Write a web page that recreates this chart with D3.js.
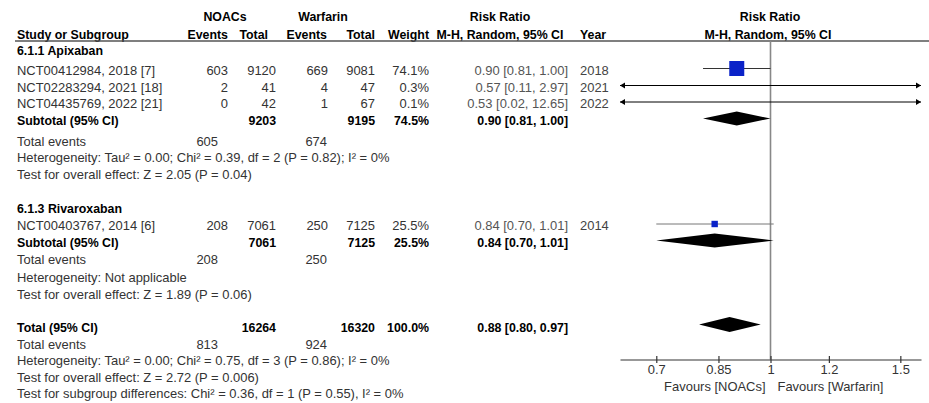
<!DOCTYPE html>
<html>
<head>
<meta charset="utf-8">
<script src="https://cdn.jsdelivr.net/npm/d3@7"></script>
<style>
  html, body { margin: 0; padding: 0; background: #fff; }
  svg { display: block; }
</style>
</head>
<body>
<svg id="plot" width="929" height="403"></svg>
<script>
// ---- Study-level data ----
const studies     = ["NCT00412984, 2018 [7]", "NCT02283294, 2021 [18]", "NCT04435769, 2022 [21]", "NCT00403767, 2014 [6]"];
const studyGroup  = [0, 0, 0, 1];
const noacEvents  = [603, 2, 0, 208];
const noacTotal   = [9120, 41, 42, 7061];
const warfEvents  = [669, 4, 1, 250];
const warfTotal   = [9081, 47, 67, 7125];
const weights     = [74.1, 0.3, 0.1, 25.5];
const rr          = [0.90, 0.57, 0.53, 0.84];
const rrLow       = [0.81, 0.11, 0.02, 0.70];
const rrHigh      = [1.00, 2.97, 12.65, 1.01];
const years       = [2018, 2021, 2022, 2014];

// ---- Subgroup summaries ----
const groupNames      = ["6.1.1 Apixaban", "6.1.3 Rivaroxaban"];
const groupNoacTotal  = [9203, 7061];
const groupWarfTotal  = [9195, 7125];
const groupWeight     = [74.5, 25.5];
const groupRR         = [0.90, 0.84];
const groupLow        = [0.81, 0.70];
const groupHigh       = [1.00, 1.01];
const groupNoacEvents = [605, 208];
const groupWarfEvents = [674, 250];
const groupHetero     = ["Heterogeneity: Tau\u00B2 = 0.00; Chi\u00B2 = 0.39, df = 2 (P = 0.82); I\u00B2 = 0%",
                         "Heterogeneity: Not applicable"];
const groupEffect     = ["Test for overall effect: Z = 2.05 (P = 0.04)",
                         "Test for overall effect: Z = 1.89 (P = 0.06)"];

// ---- Overall summary ----
const totalNoac       = 16264;
const totalWarf       = 16320;
const totalWeight     = 100.0;
const totalRR         = 0.88;
const totalLow        = 0.80;
const totalHigh       = 0.97;
const totalNoacEvents = 813;
const totalWarfEvents = 924;
const totalNotes      = ["Heterogeneity: Tau\u00B2 = 0.00; Chi\u00B2 = 0.75, df = 3 (P = 0.86); I\u00B2 = 0%",
                         "Test for overall effect: Z = 2.72 (P = 0.006)",
                         "Test for subgroup differences: Chi\u00B2 = 0.36, df = 1 (P = 0.55), I\u00B2 = 0%"];

// ---- Axis ----
const axisDomain  = [0.625, 1.6];
const tickValues  = [0.7, 0.85, 1, 1.2, 1.5];
const tickLabels  = ["0.7", "0.85", "1", "1.2", "1.5"];
const favourLeft  = "Favours [NOACs]";
const favourRight = "Favours [Warfarin]";

// ---- Layout ----
const FONT = "'Liberation Sans', Arial, Helvetica, sans-serif";
const SX_REG = 1.08, SX_BOLD = 1.03;
const col = {
  name: 17, nEv: 228, nTot: 276, wEv: 328, wTot: 375, weight: 429, ci: 568, year: 580,
  nEvSum: 218, wEvSum: 327
};
const plotX = [620, 921];
const axisY = 359.5;
const headerLineY = 41;

// text baselines for each row of the table
const yStudy    = [74.5, 91.5, 108, 230];
const yGroupHdr = [55, 213];
const ySubtotal = [124.5, 246.5];
const yGroupEv  = [145.5, 264];
const yGroupHet = [162, 281.5];
const yGroupEff = [178.5, 298.5];
const yTotal    = 331.5;
const yTotalEv  = 348.5;
const yTotalNotes = [365, 381.5, 398];
const markShift = 6;   // marks sit slightly above the text baseline

const svg = d3.select("#plot");
const fmt2 = d3.format(".2f");
const fmtPct = d3.format(".1f");

const x = d3.scaleLog().domain(axisDomain).range(plotX);

function label(g, xPos, yPos, str, opt = {}) {
  const bold = !!opt.bold;
  const sx = bold ? SX_BOLD : SX_REG;
  return g.append("text")
    .attr("transform", `translate(${xPos},${yPos}) scale(${sx},1)`)
    .attr("text-anchor", opt.anchor || "start")
    .attr("font-family", FONT)
    .attr("font-size", 12)
    .attr("font-weight", bold ? "bold" : "normal")
    .attr("fill", opt.fill || (bold ? "#000" : "#333"))
    .text(str);
}

const txt = svg.append("g");

// ---- Column headers ----
label(txt, 225, 20.5, "NOACs", { bold: true, anchor: "middle" });
label(txt, 323, 20.5, "Warfarin", { bold: true, anchor: "middle" });
label(txt, 500, 20.5, "Risk Ratio", { bold: true, anchor: "middle" });
label(txt, 770, 20.5, "Risk Ratio", { bold: true, anchor: "middle" });
label(txt, col.name, 38.5, "Study or Subgroup", { bold: true });
label(txt, 228, 38.5, "Events", { bold: true, anchor: "end" });
label(txt, 268, 38.5, "Total", { bold: true, anchor: "end" });
label(txt, 327, 38.5, "Events", { bold: true, anchor: "end" });
label(txt, 375, 38.5, "Total", { bold: true, anchor: "end" });
label(txt, 429, 38.5, "Weight", { bold: true, anchor: "end" });
label(txt, 500, 38.5, "M-H, Random, 95% CI", { bold: true, anchor: "middle" });
label(txt, 580, 38.5, "Year", { bold: true });
label(txt, 768, 38.5, "M-H, Random, 95% CI", { bold: true, anchor: "middle" });

svg.append("line")
  .attr("x1", 15).attr("x2", 929)
  .attr("y1", headerLineY).attr("y2", headerLineY)
  .attr("stroke", "#555").attr("stroke-width", 1.5);

// ---- Reference line at RR = 1 ----
svg.append("line")
  .attr("x1", x(1)).attr("x2", x(1))
  .attr("y1", headerLineY).attr("y2", axisY)
  .attr("stroke", "#888").attr("stroke-width", 1.6);

// ---- Subgroup headers, study rows, subtotals ----
groupNames.forEach((g, gi) => {
  label(txt, col.name, yGroupHdr[gi], g, { bold: true });
});

const sizeScale = d3.scalePow().exponent(0.8).domain([0, d3.max(weights)]).range([0, 15]);

const marks = svg.append("g");

function arrowHead(xTip, y, dir) {
  // dir = -1 for left-pointing, +1 for right-pointing
  marks.append("path")
    .attr("d", `M${xTip},${y} L${xTip - dir * 5},${y - 3} L${xTip - dir * 5},${y + 3} Z`)
    .attr("fill", "#000");
}

studies.forEach((s, i) => {
  const y = yStudy[i];
  label(txt, col.name, y, s);
  label(txt, col.nEv, y, noacEvents[i], { anchor: "end" });
  label(txt, col.nTot, y, noacTotal[i], { anchor: "end" });
  label(txt, col.wEv, y, warfEvents[i], { anchor: "end" });
  label(txt, col.wTot, y, warfTotal[i], { anchor: "end" });
  label(txt, col.weight, y, fmtPct(weights[i]) + "%", { anchor: "end" });
  label(txt, col.ci, y, `${fmt2(rr[i])} [${fmt2(rrLow[i])}, ${fmt2(rrHigh[i])}]`, { anchor: "end", fill: "#555" });
  label(txt, col.year, y, years[i], { fill: "#444" });

  // confidence interval, clipped to the axis range with arrows where it runs off
  const my = y - markShift;
  const lo = Math.max(rrLow[i], axisDomain[0]);
  const hi = Math.min(rrHigh[i], axisDomain[1]);
  const clipped = rrLow[i] < axisDomain[0] || rrHigh[i] > axisDomain[1];
  marks.append("line")
    .attr("x1", x(lo)).attr("x2", x(hi))
    .attr("y1", my).attr("y2", my)
    .attr("stroke", clipped ? "#000" : (studyGroup[i] === 0 ? "#333" : "#777"))
    .attr("stroke-width", 1);
  if (rrLow[i] < axisDomain[0]) arrowHead(x(lo), my, -1);
  if (rrHigh[i] > axisDomain[1]) arrowHead(x(hi), my, 1);

  // weight-sized square at the point estimate
  const sz = sizeScale(weights[i]);
  if (rr[i] >= axisDomain[0] && rr[i] <= axisDomain[1] && sz > 0.5) {
    marks.append("rect")
      .attr("x", x(rr[i]) - sz / 2).attr("y", my - sz / 2)
      .attr("width", sz).attr("height", sz)
      .attr("fill", "#0a22c8");
  }
});

function diamond(est, low, high, y, h) {
  marks.append("path")
    .attr("d", `M${x(low)},${y} L${x(est)},${y - h} L${x(high)},${y} L${x(est)},${y + h} Z`)
    .attr("fill", "#000");
}

groupNames.forEach((g, gi) => {
  const y = ySubtotal[gi];
  label(txt, col.name, y, "Subtotal (95% CI)", { bold: true });
  label(txt, col.nTot, y, groupNoacTotal[gi], { bold: true, anchor: "end" });
  label(txt, col.wTot, y, groupWarfTotal[gi], { bold: true, anchor: "end" });
  label(txt, col.weight, y, fmtPct(groupWeight[gi]) + "%", { bold: true, anchor: "end" });
  label(txt, col.ci, y, `${fmt2(groupRR[gi])} [${fmt2(groupLow[gi])}, ${fmt2(groupHigh[gi])}]`, { bold: true, anchor: "end" });
  diamond(groupRR[gi], groupLow[gi], groupHigh[gi], y - markShift, 7);

  label(txt, col.name, yGroupEv[gi], "Total events");
  label(txt, col.nEvSum, yGroupEv[gi], groupNoacEvents[gi], { anchor: "end" });
  label(txt, col.wEvSum, yGroupEv[gi], groupWarfEvents[gi], { anchor: "end" });
  label(txt, col.name, yGroupHet[gi], groupHetero[gi]);
  label(txt, col.name, yGroupEff[gi], groupEffect[gi]);
});

// ---- Overall total ----
label(txt, col.name, yTotal, "Total (95% CI)", { bold: true });
label(txt, col.nTot, yTotal, totalNoac, { bold: true, anchor: "end" });
label(txt, col.wTot, yTotal, totalWarf, { bold: true, anchor: "end" });
label(txt, col.weight, yTotal, fmtPct(totalWeight) + "%", { bold: true, anchor: "end" });
label(txt, col.ci, yTotal, `${fmt2(totalRR)} [${fmt2(totalLow)}, ${fmt2(totalHigh)}]`, { bold: true, anchor: "end" });
diamond(totalRR, totalLow, totalHigh, yTotal - markShift - 1, 7.5);

label(txt, col.name, yTotalEv, "Total events");
label(txt, col.nEvSum, yTotalEv, totalNoacEvents, { anchor: "end" });
label(txt, col.wEvSum, yTotalEv, totalWarfEvents, { anchor: "end" });
totalNotes.forEach((t, k) => label(txt, col.name, yTotalNotes[k], t));

// ---- Log-scale axis ----
const axis = d3.axisBottom(x)
  .tickValues(tickValues)
  .tickFormat((d, i) => tickLabels[i])
  .tickSize(3.5)
  .tickSizeOuter(0)
  .tickPadding(2.5);

const ax = svg.append("g")
  .attr("transform", `translate(0,${axisY})`)
  .call(axis);
ax.select(".domain").attr("stroke", "#333").attr("stroke-width", 1.2);
ax.selectAll(".tick line").attr("y1", -3.5).attr("y2", 3.5).attr("stroke", "#333").attr("stroke-width", 1.2);
ax.selectAll(".tick text")
  .attr("font-family", FONT).attr("font-size", 12).attr("fill", "#333")
  .attr("transform", `scale(${SX_REG},1)`);

label(txt, x(1) - 5, 390.5, favourLeft, { anchor: "end" });
label(txt, x(1) + 7, 390.5, favourRight);
</script>
</body>
</html>
